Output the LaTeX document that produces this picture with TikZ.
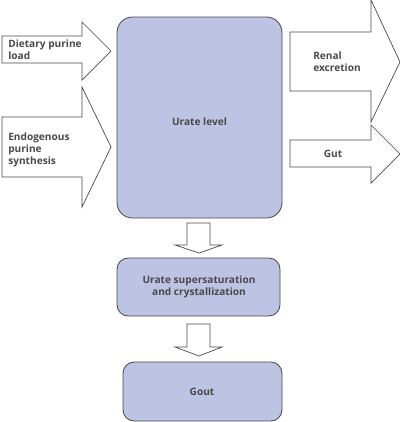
\documentclass[tikz,border=0pt]{standalone}
\usepackage{fontspec}
\setmainfont{Open Sans}
\usepackage{xcolor}
\usepackage{tikz}

\definecolor{uratefill}{HTML}{BCC3E3}
\definecolor{inkgray}{HTML}{4A4A4A}

\tikzset{
  urbox/.style={draw=inkgray, line width=0.6pt, fill=uratefill, rounded corners=#1},
  urbox/.default=8pt,
  fatarrow/.style={draw=inkgray, line width=0.5pt, fill=white, line join=miter},
  lbl/.style={text=inkgray, font=\fontsize{7.2}{8.6}\selectfont\bfseries, inner sep=0pt}
}

\begin{document}
\begin{tikzpicture}[x=0.025cm,y=-0.025cm]
\useasboundingbox (0,0) rectangle (400,422);

% boxes
\draw[urbox=11pt] (117,17) rectangle (282,218);
\node[lbl] (level) at (199.5,122) {Urate level};

\draw[urbox] (117,258) rectangle (280,316);
\node[lbl, align=center] (crystal) at (199,287) {Urate supersaturation\\and crystallization};

\draw[urbox] (123,362) rectangle (282,421);
\node[lbl] (gout) at (202,392) {Gout};

% in-going arrows
\draw[fatarrow] (2,36)--(82,36)--(82,22)--(111,51)--(82,80)--(82,63)--(2,63)--cycle;
\node[lbl, align=left, anchor=west] (diet) at (8,50) {Dietary purine\\load};

\draw[fatarrow] (2,117)--(82,117)--(82,87)--(111,147)--(82,207)--(82,177)--(2,177)--cycle;
\node[lbl, align=left, anchor=west] (endo) at (8,150) {Endogenous\\purine\\synthesis};

% out-going arrows
\draw[fatarrow] (290,32)--(371,32)--(371,0)--(400,62)--(371,122)--(371,91)--(290,91)--cycle;
\node[lbl, align=left, anchor=west] (renal) at (313,62) {Renal\\excretion};

\draw[fatarrow] (290,140)--(371,140)--(371,125)--(400,154)--(371,183)--(371,167)--(290,167)--cycle;
\node[lbl] (gut) at (333,154) {Gut};

% down arrows
\draw[fatarrow] (187,223)--(210,223)--(210,245)--(222,245)--(199,253)--(175,245)--(187,245)--cycle;
\draw[fatarrow] (187,324)--(210,324)--(210,347)--(222,347)--(199,356)--(175,347)--(187,347)--cycle;

\end{tikzpicture}
\end{document}
